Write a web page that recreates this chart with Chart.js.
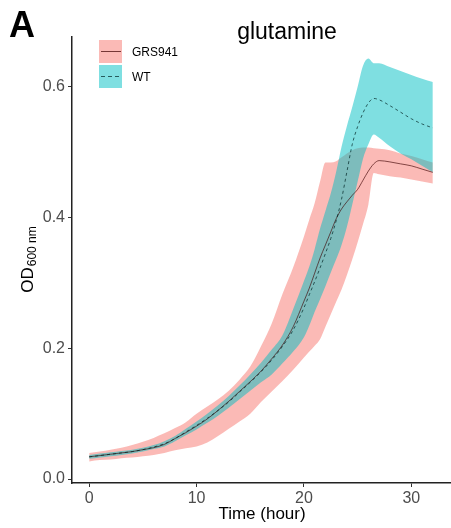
<!DOCTYPE html>
<html>
<head>
<meta charset="utf-8">
<script src="https://cdn.jsdelivr.net/npm/chart.js@4"></script>
<style>
  html, body { margin: 0; padding: 0; background: #fff; }
  #wrap { width: 451px; height: 528px; }
</style>
</head>
<body>
<div id="wrap"><canvas id="growth" width="451" height="528"></canvas></div>
<script>
// growth curve, OD600 over time, mean with sd ribbon

const time = [0, 1, 2, 3, 4, 5, 6, 7, 8, 9, 10, 11, 12, 13, 14, 15, 16, 17, 18, 19, 20,
  20.5, 21, 21.5, 22, 22.5, 23, 23.5, 24, 24.5, 25, 25.5, 26, 26.5, 27,
  28, 29, 30, 31, 32];

const grsMean = [0.034, 0.036, 0.038, 0.040, 0.042, 0.045, 0.048, 0.053, 0.062, 0.071, 0.081, 0.092, 0.105, 0.119, 0.134, 0.149, 0.165, 0.184, 0.205, 0.233, 0.272,
  0.292, 0.315, 0.338, 0.358, 0.378, 0.398, 0.413, 0.424, 0.434, 0.443, 0.457, 0.471, 0.482, 0.487,
  0.485, 0.482, 0.479, 0.474, 0.469];
const grsHi = [0.040, 0.042, 0.045, 0.048, 0.052, 0.057, 0.063, 0.070, 0.078, 0.087, 0.100, 0.111, 0.122, 0.135, 0.152, 0.172, 0.203, 0.238, 0.283, 0.324, 0.371,
  0.397, 0.422, 0.455, 0.484, 0.484, 0.486, 0.492, 0.498, 0.503, 0.506, 0.507, 0.507, 0.506, 0.505,
  0.503, 0.498, 0.494, 0.489, 0.484];
const grsLo = [0.027, 0.029, 0.030, 0.032, 0.033, 0.035, 0.037, 0.040, 0.044, 0.047, 0.050, 0.056, 0.066, 0.077, 0.088, 0.100, 0.118, 0.134, 0.150, 0.167, 0.186,
  0.195, 0.204, 0.214, 0.233, 0.252, 0.271, 0.290, 0.312, 0.336, 0.362, 0.390, 0.420, 0.468, 0.466,
  0.463, 0.461, 0.458, 0.455, 0.452];

const wtMean = [0.034, 0.036, 0.038, 0.040, 0.042, 0.045, 0.049, 0.054, 0.062, 0.072, 0.082, 0.093, 0.105, 0.118, 0.133, 0.148, 0.164, 0.182, 0.203, 0.228, 0.262,
  0.282, 0.302, 0.323, 0.345, 0.368, 0.395, 0.428, 0.470, 0.512, 0.539, 0.560, 0.575, 0.582, 0.580,
  0.571, 0.561, 0.551, 0.543, 0.537];
const wtHi = [0.037, 0.039, 0.041, 0.043, 0.045, 0.048, 0.052, 0.058, 0.066, 0.077, 0.088, 0.100, 0.113, 0.127, 0.143, 0.160, 0.178, 0.198, 0.220, 0.260, 0.303,
  0.325, 0.352, 0.383, 0.410, 0.437, 0.470, 0.508, 0.540, 0.569, 0.600, 0.632, 0.643, 0.636, 0.636,
  0.630, 0.624, 0.618, 0.612, 0.607];
const wtLo = [0.031, 0.033, 0.035, 0.037, 0.039, 0.042, 0.046, 0.050, 0.058, 0.067, 0.076, 0.086, 0.097, 0.109, 0.122, 0.135, 0.148, 0.160, 0.177, 0.195, 0.217,
  0.235, 0.256, 0.275, 0.295, 0.316, 0.336, 0.358, 0.386, 0.420, 0.455, 0.490, 0.512, 0.527, 0.522,
  0.509, 0.498, 0.489, 0.479, 0.469];

const strains = ['GRS941', 'WT'];
const xTicks = [0, 10, 20, 30];
const yTicks = [0.0, 0.2, 0.4, 0.6];

const FONT = '"Liberation Sans", Arial, Helvetica, sans-serif';
const bandColors = ['rgba(248,118,109,0.5)', 'rgba(0,191,196,0.5)'];
const lineColors = ['rgba(60,0,0,0.7)', 'rgba(0,35,35,0.7)'];
const lineDash = [[], [3, 3]];

const xy = ys => time.map((t, i) => ({ x: t, y: ys[i] }));

const band = (ys, color, fill) => ({
  data: xy(ys),
  borderWidth: 0,
  borderColor: 'rgba(0,0,0,0)',
  backgroundColor: color,
  pointRadius: 0,
  fill: fill,
  cubicInterpolationMode: 'monotone'
});

const extras = {
  id: 'extras',
  afterDraw(chart) {
    const ctx = chart.ctx;
    ctx.save();
    ctx.fillStyle = '#000';
    ctx.textBaseline = 'alphabetic';

    ctx.textAlign = 'left';
    ctx.font = 'bold 36px ' + FONT;
    ctx.fillText('A', 9, 37);

    ctx.textAlign = 'center';
    ctx.font = '23px ' + FONT;
    ctx.fillText('glutamine', 287, 39);

    ctx.font = '17px ' + FONT;
    ctx.fillText('Time (hour)', 262, 519);

    // legend
    ctx.textAlign = 'left';
    strains.forEach((name, i) => {
      const y = 40 + i * 25;
      ctx.fillStyle = bandColors[i];
      ctx.fillRect(99, y, 23, 23);
      ctx.strokeStyle = lineColors[i];
      ctx.lineWidth = 1;
      ctx.setLineDash(i === 1 ? [4, 3] : []);
      ctx.beginPath();
      ctx.moveTo(101, y + 11.5);
      ctx.lineTo(121, y + 11.5);
      ctx.stroke();
      ctx.setLineDash([]);
      ctx.fillStyle = '#000';
      ctx.font = '12px ' + FONT;
      ctx.fillText(name, 132, y + 16);
    });

    // y title with subscript
    ctx.translate(33, 260);
    ctx.rotate(-Math.PI / 2);
    ctx.font = '17px ' + FONT;
    const w1 = ctx.measureText('OD').width;
    ctx.font = '12px ' + FONT;
    const w2 = ctx.measureText('600 nm').width;
    const x0 = -(w1 + w2) / 2;
    ctx.font = '17px ' + FONT;
    ctx.fillText('OD', x0, 0);
    ctx.font = '12px ' + FONT;
    ctx.fillText('600 nm', x0 + w1 + 1, 3);
    ctx.restore();
  }
};

new Chart(document.getElementById('growth'), {
  type: 'line',
  data: {
    datasets: [
      {
        label: 'WT',
        data: xy(wtMean),
        borderColor: lineColors[1],
        borderWidth: 1,
        borderDash: lineDash[1],
        pointRadius: 0,
        fill: false,
        cubicInterpolationMode: 'monotone'
      },
      {
        label: 'GRS941',
        data: xy(grsMean),
        borderColor: lineColors[0],
        borderWidth: 0.9,
        pointRadius: 0,
        fill: false,
        cubicInterpolationMode: 'monotone'
      },
      band(wtHi, bandColors[1], '+1'),
      band(wtLo, bandColors[1], false),
      band(grsHi, bandColors[0], '+1'),
      band(grsLo, bandColors[0], false)
    ]
  },
  options: {
    responsive: false,
    animation: false,
    devicePixelRatio: 1,
    layout: { padding: { top: 37, right: 1, left: 0, bottom: 0 } },
    plugins: {
      legend: { display: false },
      tooltip: { enabled: false },
      title: { display: false }
    },
    scales: {
      x: {
        type: 'linear',
        min: -1.6,
        max: 33.6,
        afterFit: s => { s.height = 45; },
        afterBuildTicks: s => { s.ticks = xTicks.map(v => ({ value: v })); },
        grid: { display: true, drawOnChartArea: false, drawTicks: true, tickLength: 4, color: '#333' },
        border: { display: true, color: '#222', width: 1.5 },
        ticks: { color: '#4d4d4d', font: { family: FONT, size: 16 }, padding: 2, maxRotation: 0, callback: v => String(v) }
      },
      y: {
        min: -0.006,
        max: 0.676,
        afterFit: s => { s.width = 72; },
        afterBuildTicks: s => { s.ticks = yTicks.map(v => ({ value: v })); },
        grid: { display: true, drawOnChartArea: false, drawTicks: true, tickLength: 4, color: '#333' },
        border: { display: true, color: '#222', width: 1.5 },
        ticks: { color: '#4d4d4d', font: { family: FONT, size: 16 }, padding: 3, callback: v => v.toFixed(1) }
      }
    }
  },
  plugins: [extras]
});
</script>
</body>
</html>
